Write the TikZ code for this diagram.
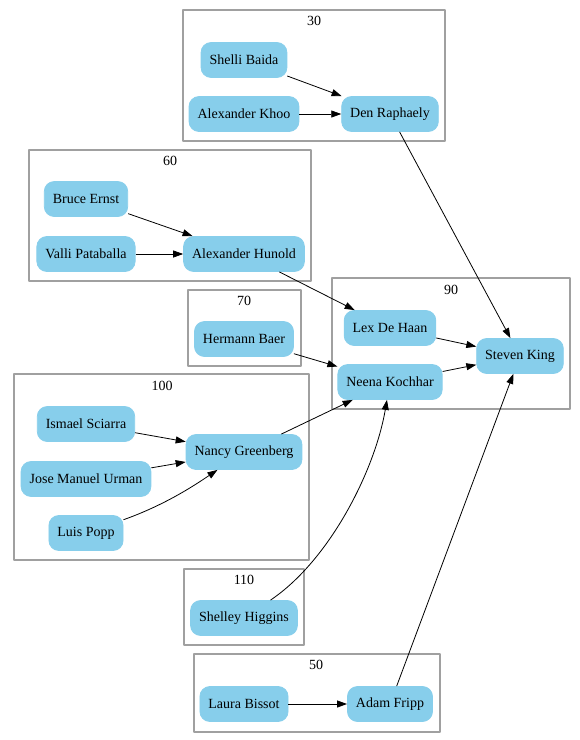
\documentclass[tikz,border=0pt]{standalone}
\usepackage{fontspec}
\setmainfont{Liberation Serif}
\usetikzlibrary{arrows.meta}
\definecolor{nodeblue}{HTML}{87CEEB}
\definecolor{clustergray}{HTML}{A0A0A0}
\begin{document}
\begin{tikzpicture}[x=1pt,y=-1pt,line join=round,>={Triangle[length=10pt,width=7pt]},line width=0.8pt]
	\tikzset{emp/.style={fill=nodeblue,draw=nodeblue,rounded corners=10pt,minimum height=35pt,inner xsep=8.5pt,font=\fontsize{14}{16}\selectfont},
		dept/.style={draw=clustergray,line width=1.1pt},
		deptlabel/.style={font=\fontsize{14}{16}\selectfont,inner sep=0pt}}
	\useasboundingbox (0,0) rectangle (580,740);
	% departments
	\draw[dept] (183,10) rectangle (445,141);
	\node[deptlabel] (d30) at (314,21) {30};
	\draw[dept] (29,150) rectangle (311,281);
	\node[deptlabel] (d60) at (170,161) {60};
	\draw[dept] (188,290) rectangle (301,366);
	\node[deptlabel] (d70) at (244,301) {70};
	\draw[dept] (332,278) rectangle (570,409);
	\node[deptlabel] (d90) at (451,290) {90};
	\draw[dept] (14,374) rectangle (309,560);
	\node[deptlabel] (d100) at (162,386) {100};
	\draw[dept] (184,569) rectangle (304,645);
	\node[deptlabel] (d110) at (244,580) {110};
	\draw[dept] (194,654) rectangle (440,732);
	\node[deptlabel] (d50) at (316,665) {50};
	% employees
	\node[emp] (sb) at (244,60) {Shelli Baida};
	\node[emp] (ak) at (244,114) {Alexander Khoo};
	\node[emp] (dr) at (390,114) {Den Raphaely};
	\node[emp] (be) at (86,199) {Bruce Ernst};
	\node[emp] (vp) at (86,254) {Valli Pataballa};
	\node[emp] (ah) at (244,254) {Alexander Hunold};
	\node[emp] (hb) at (244,339) {Hermann Baer};
	\node[emp] (ldh) at (390,328) {Lex De Haan};
	\node[emp] (nk) at (390,382) {Neena Kochhar};
	\node[emp] (sk) at (520,356) {Steven King};
	\node[emp] (is) at (86,424) {Ismael Sciarra};
	\node[emp] (jmu) at (86,479) {Jose Manuel Urman};
	\node[emp] (lp) at (86,533) {Luis Popp};
	\node[emp] (ng) at (244,452) {Nancy Greenberg};
	\node[emp] (sh) at (244,618) {Shelley Higgins};
	\node[emp] (lb) at (244,704) {Laura Bissot};
	\node[emp] (af) at (390,704) {Adam Fripp};
	% reports to
	\draw[->] (sb)--(dr);
	\draw[->] (ak)--(dr);
	\draw[->] (dr)--(sk);
	\draw[->] (be)--(ah);
	\draw[->] (vp)--(ah);
	\draw[->] (ah)--(ldh);
	\draw[->] (hb)--(nk);
	\draw[->] (ldh)--(sk);
	\draw[->] (nk)--(sk);
	\draw[->] (is)--(ng);
	\draw[->] (jmu)--(ng);
	\draw[->] (lp) .. controls (165,505) and (195,485) .. (ng);
	\draw[->] (ng)--(nk);
	\draw[->] (sh) .. controls (330,560) and (375,470) .. (nk);
	\draw[->] (lb)--(af);
	\draw[->] (af)--(sk);
\end{tikzpicture}
\end{document}
